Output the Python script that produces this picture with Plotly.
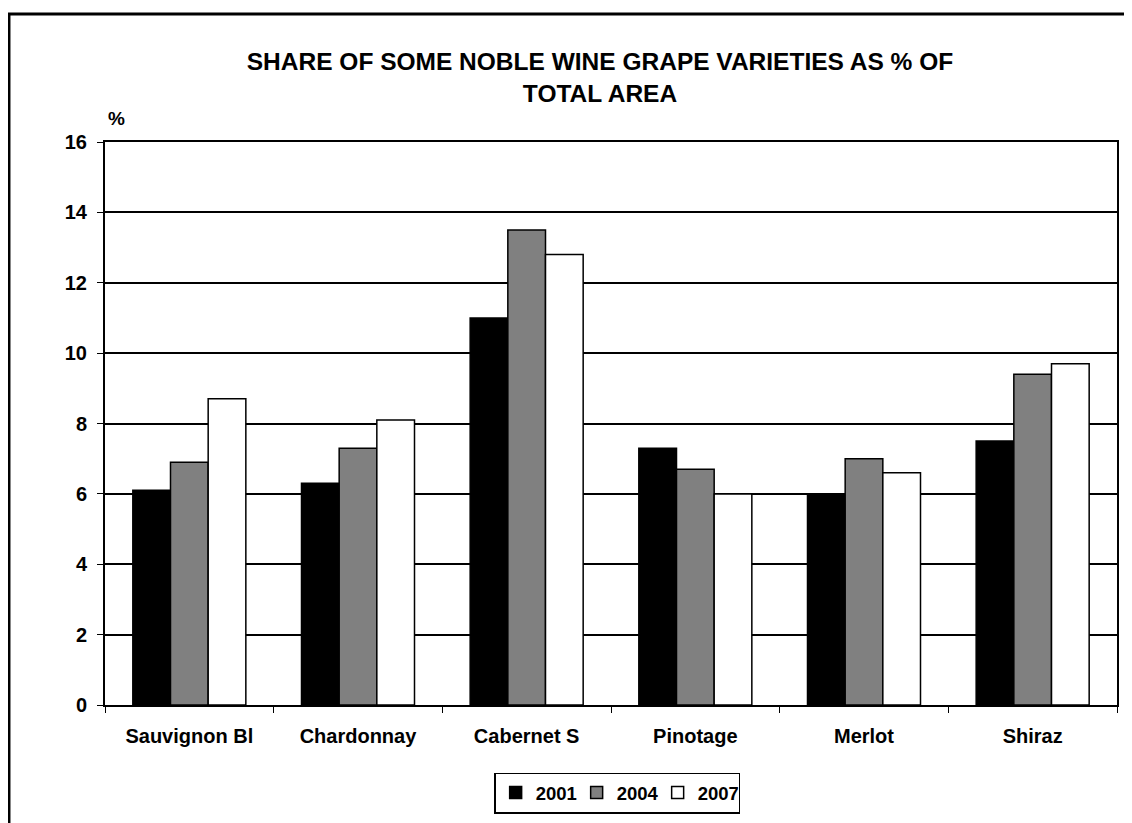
import plotly.graph_objects as go

categories = ["Sauvignon Bl", "Chardonnay", "Cabernet S", "Pinotage", "Merlot", "Shiraz"]
years = ["2001", "2004", "2007"]
v2001 = [6.1, 6.3, 11.0, 7.3, 6.0, 7.5]
v2004 = [6.9, 7.3, 13.5, 6.7, 7.0, 9.4]
v2007 = [8.7, 8.1, 12.8, 6.0, 6.6, 9.7]
series = [v2001, v2004, v2007]
colors = ["#000000", "#808080", "#ffffff"]
y_ticks = [0, 2, 4, 6, 8, 10, 12, 14, 16]

FONT = "Liberation Sans, Arial, sans-serif"
W, H = 1132, 823
OFF = 8  # page body margin offset
L, R, T, B = 105 - OFF, W - (1116.7 - OFF), 142 - OFF, H - (705 - OFF)
pw = W - L - R
ph = H - T - B

def px_x(x):
    return (x - OFF - L) / pw

def px_y(y):
    return (H - B - (y - OFF)) / ph

fig = go.Figure()
for name, vals, col in zip(years, series, colors):
    fig.add_trace(go.Bar(
        x=categories, y=vals, name=name,
        marker=dict(color=col, line=dict(color="black", width=1.5)),
    ))

fig.update_layout(
    width=W, height=H,
    margin=dict(l=L, r=R, t=T, b=B, pad=0),
    paper_bgcolor="white", plot_bgcolor="white",
    barmode="group", bargap=0.33, bargroupgap=0,
    font=dict(family=FONT, size=20, color="black", weight="bold"),
    title=dict(
        text="SHARE OF SOME NOBLE WINE GRAPE VARIETIES AS % OF<br>TOTAL AREA",
        font=dict(family=FONT, size=24.5, color="black", weight="bold"),
        xref="container", x=(600 - OFF) / W, xanchor="center",
        yref="container", y=1 - (70 - OFF) / H, yanchor="middle",
    ),
    showlegend=True,
    legend=dict(
        orientation="h", x=px_x(617), xanchor="center",
        y=px_y(793), yanchor="middle",
        bordercolor="black", borderwidth=1.5,
        font=dict(family=FONT, size=18.5, color="black", weight="bold"),
        itemwidth=30, traceorder="normal",
        entrywidth=36, entrywidthmode="pixels",
        tracegroupgap=0,
    ),
    xaxis=dict(
        type="category",
        showline=True, mirror=True, linecolor="black", linewidth=2,
        ticks="outside", tickson="boundaries", ticklen=6, tickcolor="black", tickwidth=1,
        showgrid=False,
        ticklabelstandoff=12,
        tickfont=dict(family=FONT, size=20, color="black", weight="bold"),
    ),
    yaxis=dict(
        range=[0, 16], tickvals=y_ticks, ticktext=[str(t) for t in y_ticks],
        showline=True, mirror=True, linecolor="black", linewidth=2,
        ticks="outside", ticklen=6, tickcolor="black", tickwidth=1,
        showgrid=True, gridcolor="black", gridwidth=1.5,
        zeroline=False,
        ticklabelstandoff=6,
        tickfont=dict(family=FONT, size=20, color="black", weight="bold"),
    ),
    annotations=[dict(
        text="%", xref="paper", yref="paper",
        x=px_x(116.5), y=px_y(119), xanchor="center", yanchor="middle",
        showarrow=False,
        font=dict(family=FONT, size=19, color="black", weight="bold"),
    )],
    shapes=[dict(
        type="path", xref="paper", yref="paper",
        path=f"M {px_x(9)} {px_y(840)} L {px_x(9)} {px_y(14)} L {px_x(1150)} {px_y(14)}",
        line=dict(color="black", width=3),
    )],
)

fig.write_html("out.html")
